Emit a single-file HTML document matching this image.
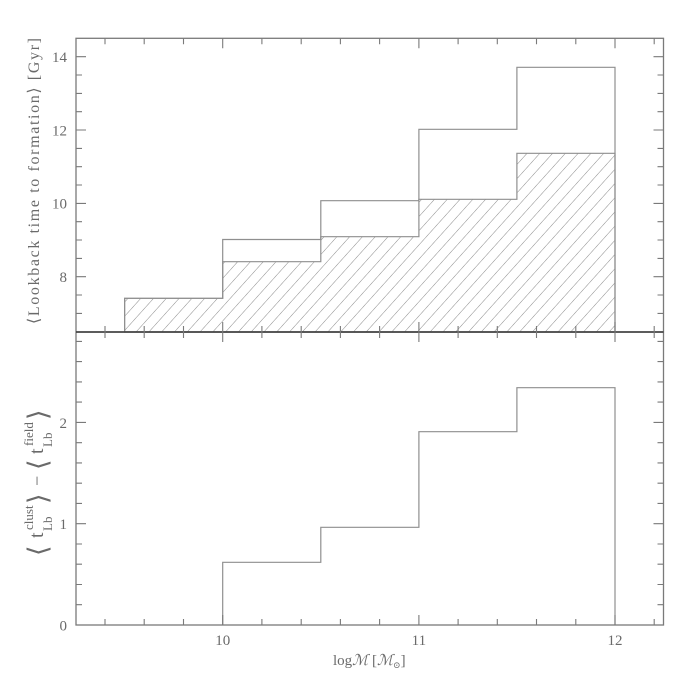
<!DOCTYPE html>
<html><head><meta charset="utf-8"><style>
html,body{margin:0;padding:0;background:#fff;}
svg{display:block;}
text{font-family:"Liberation Serif","DejaVu Serif",serif;fill:#6a6a6a;}
</style></head><body>
<svg width="700" height="700" viewBox="0 0 700 700" xmlns="http://www.w3.org/2000/svg">
<defs>
<pattern id="hatch" patternUnits="userSpaceOnUse" width="9.5" height="9.5" patternTransform="rotate(42)">
<line x1="0" y1="0" x2="0" y2="9.5" stroke="#8a8a8a" stroke-width="1"/>
</pattern>
</defs>
<rect width="700" height="700" fill="#fff"/>
<!-- hatched region -->
<path d="M124.6 332V298.3H222.7V261.7H320.8V236.7H418.9V199.3H516.9V153.3H615V332Z" fill="url(#hatch)" stroke="#8f8f8f" stroke-width="1.2"/>
<!-- outer histogram -->
<path d="M124.6 332V298.3H222.7V239.5H320.8V200.7H418.9V129.3H516.9V67.3H615V332" fill="none" stroke="#8f8f8f" stroke-width="1.2"/>
<!-- bottom histogram -->
<path d="M222.7 625V562.3H320.8V527.3H418.9V431.7H516.9V387.7H615V625" fill="none" stroke="#8f8f8f" stroke-width="1.2"/>
<!-- frame -->
<rect x="76" y="38.3" width="587.5" height="586.7" fill="none" stroke="#7a7a7a" stroke-width="1.3"/>
<line x1="76" y1="332" x2="663.5" y2="332" stroke="#444" stroke-width="1.8"/>
<!-- ticks -->
<g stroke="#7a7a7a" stroke-width="1.1" fill="none">
<path d="M76 313.4h6M76 295h6M76 276.7h10M76 258.4h6M76 240h6M76 221.7h6M76 203.4h10M76 185h6M76 166.7h6M76 148.4h6M76 130h10M76 111.7h6M76 93.4h6M76 75h6M76 56.7h10"/>
<path d="M663.5 313.4h-6M663.5 295h-6M663.5 276.7h-10M663.5 258.4h-6M663.5 240h-6M663.5 221.7h-6M663.5 203.4h-10M663.5 185h-6M663.5 166.7h-6M663.5 148.4h-6M663.5 130h-10M663.5 111.7h-6M663.5 93.4h-6M663.5 75h-6M663.5 56.7h-10"/>
<path d="M76 604.7h6M76 584.5h6M76 564.2h6M76 544h6M76 523.7h10M76 503.4h6M76 483.2h6M76 462.9h6M76 442.7h6M76 422.4h10M76 402.1h6M76 381.9h6M76 361.6h6M76 341.4h6"/>
<path d="M663.5 604.7h-6M663.5 584.5h-6M663.5 564.2h-6M663.5 544h-6M663.5 523.7h-10M663.5 503.4h-6M663.5 483.2h-6M663.5 462.9h-6M663.5 442.7h-6M663.5 422.4h-10M663.5 402.1h-6M663.5 381.9h-6M663.5 361.6h-6M663.5 341.4h-6"/>
<path d="M105 38.3v6M144.2 38.3v6M183.5 38.3v6M222.7 38.3v10M261.9 38.3v6M301.2 38.3v6M340.4 38.3v6M379.6 38.3v6M418.9 38.3v10M458.1 38.3v6M497.3 38.3v6M536.5 38.3v6M575.8 38.3v6M615 38.3v10M654.2 38.3v6"/>
<path d="M105 332v-6M144.2 332v-6M183.5 332v-6M222.7 332v-10M261.9 332v-6M301.2 332v-6M340.4 332v-6M379.6 332v-6M418.9 332v-10M458.1 332v-6M497.3 332v-6M536.5 332v-6M575.8 332v-6M615 332v-10M654.2 332v-6"/>
<path d="M105 332v6M144.2 332v6M183.5 332v6M222.7 332v10M261.9 332v6M301.2 332v6M340.4 332v6M379.6 332v6M418.9 332v10M458.1 332v6M497.3 332v6M536.5 332v6M575.8 332v6M615 332v10M654.2 332v6"/>
<path d="M105 625v-6M144.2 625v-6M183.5 625v-6M222.7 625v-10M261.9 625v-6M301.2 625v-6M340.4 625v-6M379.6 625v-6M418.9 625v-10M458.1 625v-6M497.3 625v-6M536.5 625v-6M575.8 625v-6M615 625v-10M654.2 625v-6"/>
</g>
<!-- tick labels -->
<g font-size="15" text-anchor="end">
<text x="67" y="62">14</text>
<text x="67" y="135.5">12</text>
<text x="67" y="208.5">10</text>
<text x="67" y="282">8</text>
<text x="67" y="428">2</text>
<text x="67" y="529">1</text>
<text x="67" y="630.5">0</text>
</g>
<g font-size="15" text-anchor="middle">
<text x="222.7" y="645">10</text>
<text x="418.9" y="645">11</text>
<text x="615" y="645">12</text>
</g>
<!-- x label -->
<text x="333" y="665" font-size="15">log<tspan font-style="italic" font-family="DejaVu Serif, serif">ℳ</tspan> [<tspan font-style="italic" font-family="DejaVu Serif, serif">ℳ</tspan><tspan font-size="9" dy="3">⊙</tspan><tspan dy="-3">]</tspan></text>
<!-- top y label -->
<text transform="translate(39,181) rotate(-90)" font-size="16" text-anchor="middle" textLength="286" lengthAdjust="spacing">⟨Lookback time to formation⟩ [Gyr]</text>
<!-- bottom y label -->
<g transform="translate(43,557) rotate(-90)">
<text font-size="27" x="1" y="4" font-family="DejaVu Sans, sans-serif">⟨</text>
<text font-size="20" x="19" y="0">t</text>
<text font-size="13" x="26" y="9">Lb</text>
<text font-size="13" x="27" y="-10">clust</text>
<text font-size="27" x="53" y="4" font-family="DejaVu Sans, sans-serif">⟩</text>
<text font-size="18" x="71" y="0">−</text>
<text font-size="27" x="87" y="4" font-family="DejaVu Sans, sans-serif">⟨</text>
<text font-size="20" x="103" y="0">t</text>
<text font-size="13" x="110" y="9">Lb</text>
<text font-size="13" x="111" y="-10">field</text>
<text font-size="27" x="137" y="4" font-family="DejaVu Sans, sans-serif">⟩</text>
</g>
</svg>
</body></html>
